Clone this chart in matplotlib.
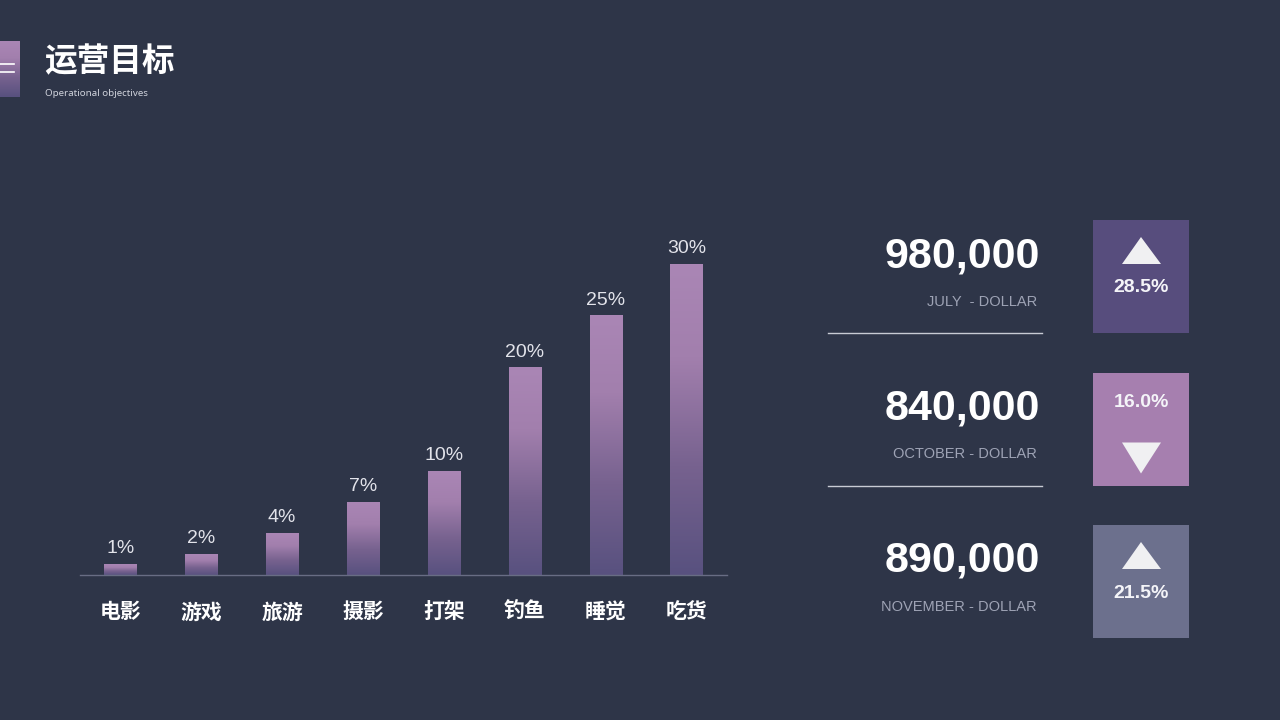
import numpy as np
import matplotlib
matplotlib.use("Agg")
import matplotlib.pyplot as plt
from matplotlib.colors import LinearSegmentedColormap
from matplotlib.patches import Rectangle, Polygon

# bar chart data
categories = ['电影', '游戏', '旅游', '摄影', '打架', '钓鱼', '睡觉', '吃货']
shares = [1, 2, 4, 7, 10, 20, 25, 30]

# kpi panel data
kpi_values = ['980,000', '840,000', '890,000']
kpi_labels = ['JULY  - DOLLAR', 'OCTOBER - DOLLAR', 'NOVEMBER - DOLLAR']
kpi_changes = ['28.5%', '16.0%', '21.5%']
kpi_up = [True, False, True]
kpi_colors = ['#574d7d', '#a67faf', '#6c708d']

BG = '#2e3548'
CJK = ['Noto Sans CJK SC', 'DejaVu Sans']
LAT = ['Liberation Sans', 'DejaVu Sans']

fig = plt.figure(figsize=(12.8, 7.2), dpi=100)
fig.patch.set_facecolor(BG)

grad = LinearSegmentedColormap.from_list(
    'bar', [(0, '#58517f'), (0.35, '#77628f'), (0.7, '#a27fad'), (1, '#aa86b5')])

# overlay in pixel coordinates for the decoration and the kpi panel
ov = fig.add_axes([0, 0, 1, 1])
ov.set_xlim(0, 1280)
ov.set_ylim(720, 0)
ov.axis('off')
ov.set_facecolor('none')

# title block
ov.imshow(np.linspace(0, 1, 100).reshape(-1, 1)[::-1], extent=[0, 20, 97, 41],
          cmap=grad, aspect='auto', zorder=1)
ov.plot([0, 14], [64, 64], color='white', lw=1.2, zorder=2)
ov.plot([0, 14], [72, 72], color='white', lw=1.2, zorder=2)
ov.text(44, 62, '运营目标', family=CJK, fontsize=23.5, fontweight='bold',
        color='white', va='center', ha='left')
ov.text(45, 93, 'Operational objectives', family=['Noto Sans', 'DejaVu Sans'],
        fontsize=7, color='#d0d3dc', va='center', ha='left')

# kpi rows
for i in range(len(kpi_values)):
    top = 220 + i * 152.5
    ov.text(1040, top + 36, kpi_values[i], family=LAT, fontsize=31,
            fontweight='bold', color='white', ha='right', va='center')
    ov.text(1037, top + 82, kpi_labels[i], family=LAT, fontsize=10.5,
            color='#9ea3b5', ha='right', va='center')
    if i < len(kpi_values) - 1:
        ov.plot([828, 1042], [top + 113, top + 113], color='#c8cbd4', lw=1)
    ov.add_patch(Rectangle((1093, top), 96, 113, facecolor=kpi_colors[i],
                           edgecolor='none'))
    if kpi_up[i]:
        tri = [(1141, top + 17), (1122, top + 44), (1161, top + 44)]
        ty = top + 68
    else:
        tri = [(1122, top + 70), (1161, top + 70), (1141, top + 101)]
        ty = top + 30
    ov.add_patch(Polygon(tri, closed=True, facecolor='#f0f0f2', edgecolor='none'))
    ov.text(1141, ty, kpi_changes[i], family=LAT, fontsize=14,
            fontweight='bold', color='#f4f4f8', ha='center', va='center')

# bar chart
ax = fig.add_axes([80 / 1280, 1 - 575 / 720, 647 / 1280, 345 / 720])
ax.set_facecolor('none')
x = np.arange(len(categories))
width = 0.4
bars = ax.bar(x, shares, width=width, color='none', edgecolor='none')
g = np.linspace(0, 1, 256).reshape(-1, 1)
for b, v in zip(bars, shares):
    x0 = b.get_x()
    ax.imshow(g[::-1], extent=[x0, x0 + width, 0, v], cmap=grad,
              aspect='auto', zorder=2)
    ax.text(b.get_x() + width / 2, v + 0.7, f'{v}%', family=LAT,
            fontsize=14, color='#e2e3ea', ha='center', va='bottom')

ax.set_xlim(-0.5, len(categories) - 0.5)
ax.set_ylim(0, 33.3)
for s in ['top', 'right', 'left']:
    ax.spines[s].set_visible(False)
ax.spines['bottom'].set_color('#686d84')
ax.spines['bottom'].set_linewidth(1)
ax.set_yticks([])
ax.set_xticks(x)
ax.set_xticklabels(categories, family=CJK, fontsize=15, fontweight='bold',
                   color='white')
ax.tick_params(axis='x', length=0, pad=19)

fig.savefig('out.png', dpi=100, facecolor=BG)
